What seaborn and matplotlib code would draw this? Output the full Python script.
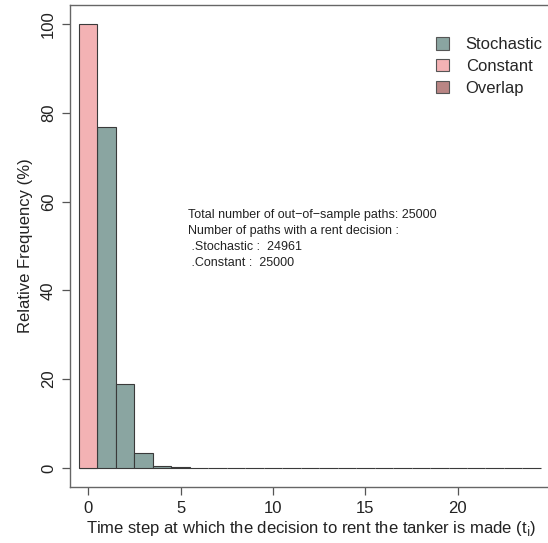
import matplotlib
matplotlib.use("Agg")
import matplotlib.pyplot as plt
import matplotlib.patches as mpatches
import seaborn as sns
import numpy as np

# Relative frequency (%) of the time step at which the tanker is rented
time_steps = list(range(0, 25))
stochastic_pct = [0.0, 76.9, 19.0, 3.3, 0.5, 0.12, 0.04] + [0.0] * 18
constant_pct = [100.0] + [0.0] * 24

legend_labels = ["Stochastic", "Constant", "Overlap"]
x_ticks = [0, 5, 10, 15, 20]
y_ticks = [0, 20, 40, 60, 80, 100]

col_stoch = "#8aa5a1"
col_const = "#f3b2b4"
col_overlap = "#b98584"
edge = "#3a3a3a"

sns.set_theme(style="white")
plt.rcParams["font.family"] = ["Liberation Sans", "DejaVu Sans"]

fig = plt.figure(figsize=(5.48, 5.43), dpi=100)
ax = fig.add_axes([70 / 548, 56 / 543, 482 / 548, 482 / 543])

sns.histplot(x=time_steps, weights=stochastic_pct, discrete=True, ax=ax,
             color=col_stoch, edgecolor=edge, alpha=1, linewidth=0.8)
sns.histplot(x=time_steps[:1], weights=constant_pct[:1], discrete=True, ax=ax,
             color=col_const, edgecolor=edge, alpha=1, linewidth=0.8)

ax.set_xlim(-0.98, 25.1)
ax.set_ylim(-4.3, 104.3)
ax.set_xticks(x_ticks)
ax.set_yticks(y_ticks)
ax.set_yticklabels([str(v) for v in y_ticks], rotation=90, va="center")
ax.tick_params(axis="both", which="both", direction="out", length=6, width=0.9,
               color="#555555", labelsize=12, labelcolor="#222222", pad=4,
               left=True, bottom=True)

for s in ["left", "bottom", "top"]:
    ax.spines[s].set_color("#666666")
    ax.spines[s].set_linewidth(1.0)
ax.spines["right"].set_visible(False)

ax.set_ylabel("Relative Frequency (%)", fontsize=12, color="#222222", labelpad=6)
ax.set_xlabel("Time step at which the decision to rent the tanker is made (t$_\\mathrm{i}$)",
              fontsize=12, color="#222222", labelpad=2)

handles = [mpatches.Patch(facecolor=c, edgecolor="#555555", linewidth=0.8)
           for c in (col_stoch, col_const, col_overlap)]
ax.legend(handles, legend_labels, loc="upper right", bbox_to_anchor=(1.005, 0.958),
          frameon=False, fontsize=12, handlelength=0.8, handleheight=0.8,
          handletextpad=1.0, labelspacing=0.4, borderaxespad=0.3)

ax.text(5.4, 58.4,
        "Total number of out\u2212of\u2212sample paths: 25000\n"
        "Number of paths with a rent decision :\n"
        " .Stochastic :  24961\n"
        " .Constant :  25000",
        fontsize=9, color="#222222", va="top", ha="left", linespacing=1.45)

fig.savefig("out.png", dpi=100)
